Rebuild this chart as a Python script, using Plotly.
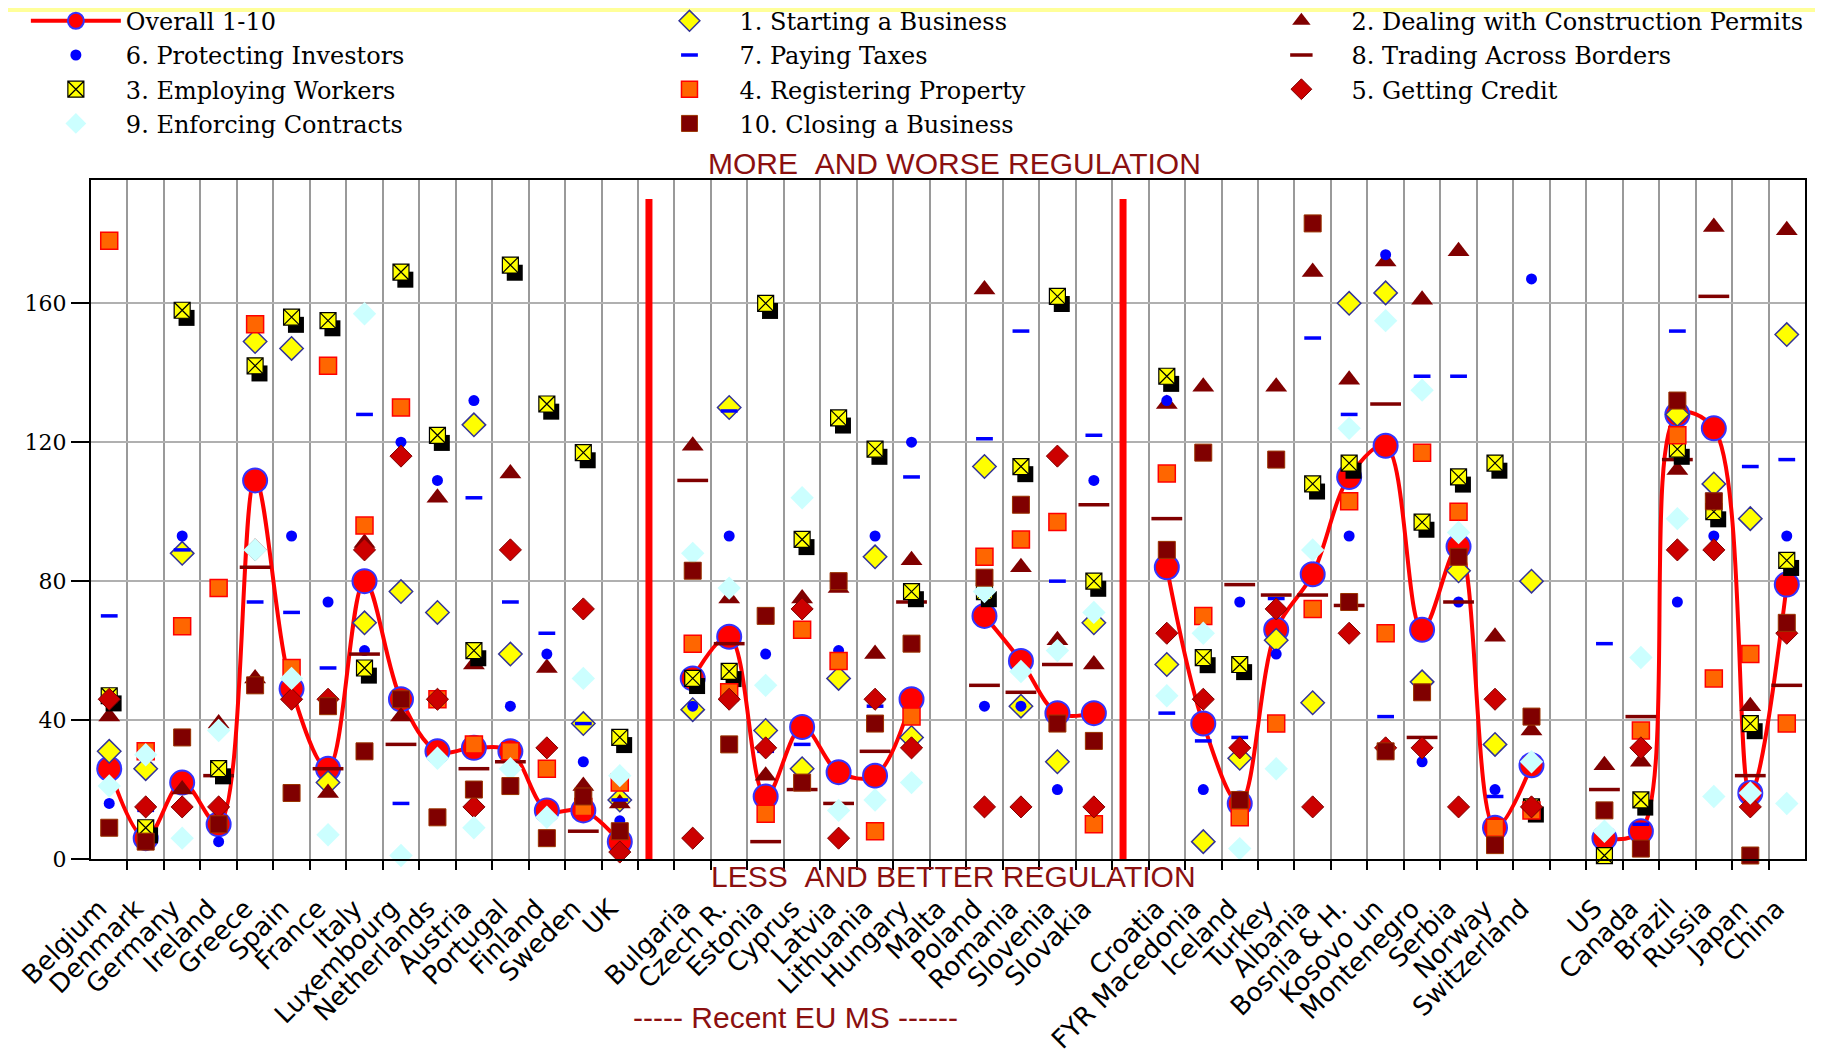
"""Doing Business rankings by country: overall and ten sub-indicators."""

import plotly.graph_objects as go

countries = [
    "Belgium", "Denmark", "Germany", "Ireland", "Greece", "Spain", "France", "Italy",
    "Luxembourg", "Netherlands", "Austria", "Portugal", "Finland", "Sweden", "UK",
    None,
    "Bulgaria", "Czech R.", "Estonia", "Cyprus", "Latvia", "Lithuania", "Hungary", "Malta",
    "Poland", "Romania", "Slovenia", "Slovakia",
    None,
    "Croatia", "FYR Macedonia", "Iceland", "Turkey", "Albania", "Bosnia & H.", "Kosovo un",
    "Montenegro", "Serbia", "Norway", "Switzerland",
    None,
    "US", "Canada", "Brazil", "Russia", "Japan", "China",
]

N = None
overall = [26, 6, 22, 10, 109, 49, 26, 80, 46, 31, 32, 31, 14, 14, 5, N,
           52, 64, 18, 38, 25, 24, 46, N, 70, 57, 42, 42, N,
           84, 39, 16, 66, 82, 110, 119, 66, 90, 9, 27, N,
           6, 8, 128, 124, 19, 79]
starting = [31, 26, 88, N, 149, 147, 22, 68, 77, 71, 125, 59, N, 39, 17, N,
            43, 130, 37, 26, 52, 87, 35, N, 113, 44, 28, 68, N,
            56, 5, 29, 63, 45, 160, 163, 51, 83, 33, 80, N,
            N, N, 128, 108, 98, 151]
construction = [41, N, 20, 39, 52, N, 19, 91, 41, 104, 56, 111, 55, 21, 16, N,
                119, 75, 24, 75, 78, 59, 86, N, 164, 84, 63, 56, N,
                131, 136, N, 136, 169, 138, 172, 161, 175, 64, 37, N,
                27, 28, 112, 182, 44, 181]
employing = [47, 9, 158, 26, 142, 156, 155, 55, 169, 122, 60, 171, 131, 117, 35, N,
             52, 54, 160, 92, 127, 118, 77, N, 77, 113, 162, 80, N,
             139, 58, 56, N, 108, 114, N, 97, 110, 114, 15, N,
             1, 17, 118, 100, 39, 86]
registering = [178, 31, 67, 78, 154, 55, 142, 96, 130, 46, 33, 31, 26, 15, 22, N,
               62, 48, 13, 66, 57, 8, 41, N, 87, 92, 97, 10, N,
               111, 70, 12, 39, 72, 103, 65, 117, 100, 9, 14, N,
               N, 37, 122, 52, 59, 39]
credit = [46, 15, 15, 15, 89, 46, 46, 89, 116, 46, 15, 89, 32, 72, 2, N,
          6, 46, 32, 72, 6, 46, 32, N, 15, 15, 116, 15, N,
          65, 46, 32, 72, 15, 65, 32, 32, 15, 46, 15, N,
          N, 32, 89, 89, 15, 65]
investors = [16, N, 93, 5, N, 93, 74, 60, 120, 109, 132, 44, 59, 28, 11, N,
             44, 93, 59, N, 60, 93, 120, N, 44, 44, 20, 109, N,
             132, 20, 74, 59, N, 93, 174, 28, 74, 20, 167, N,
             N, N, 74, 93, N, 93]
taxes = [70, 14, 89, N, 74, 71, 55, 128, 16, N, 104, 74, 65, 39, 17, N,
         85, 129, 31, 33, 59, 44, 110, N, 121, 152, 80, 122, N,
         42, 34, 35, 75, 150, 128, 41, 139, 139, 18, N, N,
         62, 10, 152, 105, 113, 115]
trading = [N, N, N, 24, 84, N, 26, 59, 33, N, 26, 28, N, 8, N, N,
           109, 62, 5, 20, 16, 31, 74, N, 50, 48, 56, 102, N,
           98, N, 79, 76, 76, 73, 131, 35, 74, N, N, N,
           20, 41, 115, 162, 24, 50]
enforcing = [21, 30, 6, 37, 89, 52, 7, 157, 1, 29, 9, 26, 12, 52, 24, N,
             88, 78, 50, 104, 14, 17, 22, N, 77, 54, 60, 71, N,
             47, 65, 3, 26, 89, 124, 155, 135, 94, N, 28, N,
             8, 58, 98, 18, 19, 16]
closing = [9, 5, 35, 10, 50, 19, 44, 31, 46, 12, 20, 21, 6, 18, 8, N,
           83, 33, 70, 22, 80, 39, 62, N, 81, 102, 39, 34, N,
           89, 117, 17, 115, 183, 74, 31, 48, 87, 4, 41, N,
           14, 3, 132, 103, 1, 68]

y_ticks = [0, 40, 80, 120, 160]

xs = list(range(len(countries)))
gaps = [i for i, c in enumerate(countries) if c is None]
label_x = [i for i, c in enumerate(countries) if c is not None]
label_text = [c for c in countries if c is not None]
boundaries = [i + 0.5 for i in range(len(countries) - 1)]

DARK = "#800000"
TITLE_RED = "#8b1010"

fig = go.Figure()

fig.add_trace(go.Scatter(
    x=xs, y=overall, name="Overall 1-10", mode="lines+markers", legend="legend",
    line=dict(color="#ff0000", width=4, shape="spline", smoothing=1),
    marker=dict(size=24, color="#ff0000", line=dict(color="#3333ff", width=2)),
    connectgaps=False, cliponaxis=False,
))


def points(y, name, legend, **marker):
    fig.add_trace(go.Scatter(x=xs, y=y, name=name, mode="markers", legend=legend,
                             marker=marker, cliponaxis=False))


points(starting, "1. Starting a Business", "legend2",
       symbol="diamond", size=18, color="#ffff00", line=dict(color="#333399", width=1.5))
points(construction, "2. Dealing with Construction Permits", "legend3",
       symbol="triangle-up", size=19, color=DARK)
points(investors, "6. Protecting Investors", "legend",
       symbol="circle", size=11, color="#0000ff")
points(taxes, "7. Paying Taxes", "legend2",
       symbol="line-ew", size=12, line=dict(color="#0000ff", width=3.5))
points(trading, "8. Trading Across Borders", "legend3",
       symbol="line-ew", size=22, line=dict(color=DARK, width=3.5))

# drop shadow behind the employing-workers boxes
fig.add_trace(go.Scatter(
    x=[x + 0.12 for x in xs],
    y=[v - 2.2 if v is not None else None for v in employing],
    mode="markers", showlegend=False, hoverinfo="skip", cliponaxis=False,
    marker=dict(symbol="square", size=16, color="#000000"),
))
points(employing, "3. Employing Workers", "legend",
       symbol="square-x", size=16, color="#ffff00", line=dict(color="#000000", width=1.2))
points(registering, "4. Registering Property", "legend2",
       symbol="square", size=17, color="#ff6600", line=dict(color="#ff0000", width=1.5))
points(credit, "5. Getting Credit", "legend3",
       symbol="diamond", size=17, color="#cc0000", line=dict(color=DARK, width=1))
points(enforcing, "9. Enforcing Contracts", "legend",
       symbol="diamond", size=18, color="#ccffff")
points(closing, "10. Closing a Business", "legend2",
       symbol="square", size=17, color=DARK, line=dict(color="#993300", width=1))

# red separators between country groups
for g in gaps[:2]:
    fig.add_shape(type="line", xref="x", yref="y", x0=g - 0.2, x1=g - 0.2, y0=-6, y1=190,
                  line=dict(color="#ff0000", width=7))

fig.add_shape(type="rect", xref="paper", yref="paper", x0=-0.06, x1=1.02, y0=1.2474, y1=1.2533,
              line_width=0, fillcolor="#ffff99", layer="below")

legend_style = dict(
    orientation="v", xanchor="left", yanchor="top", y=1.267, itemwidth=90,
    font=dict(family="DejaVu Serif", size=24, color="#000000"),
    bgcolor="rgba(0,0,0,0)", tracegroupgap=0,
)
fig.update_layout(
    width=1823, height=1054,
    margin=dict(l=83, r=26, t=172, b=203, autoexpand=False),
    paper_bgcolor="white", plot_bgcolor="white",
    legend=dict(x=-0.038, **legend_style),
    legend2=dict(x=0.320, **legend_style),
    legend3=dict(x=0.677, **legend_style),
    xaxis=dict(
        range=[-0.5, len(countries) - 0.5],
        tickmode="array", tickvals=label_x, ticktext=label_text,
        tickangle=-45, ticks="", showgrid=False, ticklabelstandoff=22, ticklabelshift=-10,
        tickfont=dict(family="DejaVu Sans", size=26, color="#000000"),
        showline=True, linecolor="#000000", linewidth=2, mirror=True,
        zeroline=False,
        minor=dict(tickmode="array", tickvals=boundaries, showgrid=True,
                   gridcolor="#9a9a9a", gridwidth=1.5,
                   ticks="outside", ticklen=9, tickwidth=1.5, tickcolor="#000000"),
    ),
    yaxis=dict(
        range=[0, 195.5], tickmode="array", tickvals=y_ticks,
        ticks="outside", ticklen=18, tickwidth=2, tickcolor="#000000",
        tickfont=dict(family="DejaVu Serif", size=22, color="#000000"),
        showgrid=True, gridcolor="#b0b0b0", gridwidth=1.5,
        showline=True, linecolor="#000000", linewidth=2, mirror=True,
        zeroline=False,
    ),
    annotations=[
        dict(text="MORE \u00a0AND WORSE REGULATION", xref="paper", yref="paper",
             x=0.504, y=1.025, yanchor="middle", showarrow=False,
             font=dict(family="Liberation Sans", size=30, color=TITLE_RED)),
        dict(text="LESS \u00a0AND BETTER REGULATION", xref="paper", yref="paper",
             x=0.503, y=-0.0265, yanchor="middle", showarrow=False,
             font=dict(family="Liberation Sans", size=30, color=TITLE_RED)),
        dict(text="----- Recent EU MS ------", xref="paper", yref="paper",
             x=0.411, y=-0.233, yanchor="middle", showarrow=False,
             font=dict(family="Liberation Sans", size=30, color=TITLE_RED)),
    ],
)

fig.write_html("out.html")
